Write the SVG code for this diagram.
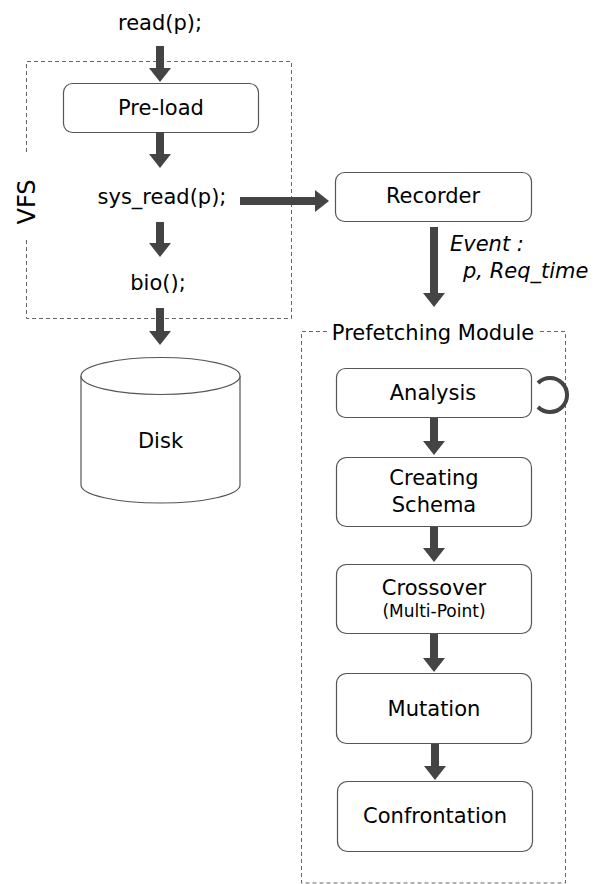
<svg xmlns="http://www.w3.org/2000/svg" width="606" height="884" viewBox="0 0 606 884">
<style>
text{font-family:"DejaVu Sans","Liberation Sans",Arial,sans-serif;font-size:21px;fill:#000;text-anchor:middle}
.box{fill:#fff;stroke:#555;stroke-width:1.2}
.dash{fill:none;stroke:#666;stroke-width:1;stroke-dasharray:4 3}
.arr{stroke:#444;stroke-width:8;fill:none;marker-end:url(#ah)}
.ev{font-style:italic;text-anchor:start}
</style>
<defs>
<marker id="ah" markerUnits="userSpaceOnUse" markerWidth="14" markerHeight="22" refX="0" refY="11" orient="auto">
<path d="M0,0 L14,11 L0,22 z" fill="#444"/>
</marker>
</defs>
<g id="vfs">
<path class="dash" d="M26.5,152 V61.5 H291.5 V318.5 H26.5 V238"/>
<text transform="translate(35,202) rotate(-90)" style="font-size:24px">VFS</text>
</g>
<g id="read"><text x="160" y="30">read(p);</text></g>
<g id="preload"><rect class="box" x="63.5" y="83.5" width="195" height="49" rx="9"/><text x="161" y="115">Pre-load</text></g>
<g id="sysread"><text x="162" y="204">sys_read(p);</text></g>
<g id="bio"><text x="158" y="290">bio();</text></g>
<g id="disk">
<path class="box" d="M81,376 V485 A79.5,18 0 0 0 240,485 V376"/>
<ellipse class="box" cx="160.5" cy="376" rx="79.5" ry="18.5"/>
<text x="160.5" y="448">Disk</text>
</g>
<g id="recorder"><rect class="box" x="335.5" y="172.5" width="196" height="49" rx="9"/><text x="433" y="203">Recorder</text></g>
<g id="event"><text class="ev" x="450" y="251">Event :</text><text class="ev" x="463" y="278">p, Req_time</text></g>
<g id="prefetching">
<path class="dash" d="M327,331.5 H301.5 V883 H565.5 V331.5 H540"/>
<text x="433" y="340">Prefetching Module</text>
</g>
<g id="analysis"><rect class="box" x="336.5" y="368.5" width="195" height="49" rx="9"/><text x="433" y="400">Analysis</text>
<path d="M538,383 A17,17 0 1 1 538,407" fill="none" stroke="#444" stroke-width="4"/></g>
<g id="schema"><rect class="box" x="336.5" y="457.5" width="195" height="69" rx="10"/><text x="434" y="485">Creating</text><text x="434" y="512">Schema</text></g>
<g id="crossover"><rect class="box" x="336.5" y="564.5" width="195" height="69" rx="10"/><text x="434" y="595">Crossover</text><text x="434" y="617" style="font-size:17px">(Multi-Point)</text></g>
<g id="mutation"><rect class="box" x="336.5" y="673.5" width="195" height="70" rx="10"/><text x="434" y="716">Mutation</text></g>
<g id="confrontation"><rect class="box" x="337.5" y="781.5" width="195" height="70" rx="10"/><text x="435" y="823">Confrontation</text></g>
<g id="connectors">
<line class="arr" x1="160" y1="46" x2="160" y2="68"/>
<line class="arr" x1="160" y1="132" x2="160" y2="154"/>
<line class="arr" x1="160" y1="222" x2="160" y2="243"/>
<line class="arr" x1="160" y1="308" x2="160" y2="331"/>
<line class="arr" x1="240" y1="201" x2="315" y2="201"/>
<line class="arr" x1="434" y1="227" x2="434" y2="293"/>
<line class="arr" x1="434" y1="418" x2="434" y2="441"/>
<line class="arr" x1="434" y1="527" x2="434" y2="548"/>
<line class="arr" x1="434" y1="634" x2="434" y2="658"/>
<line class="arr" x1="435" y1="744" x2="435" y2="766"/>
</g>
</svg>
